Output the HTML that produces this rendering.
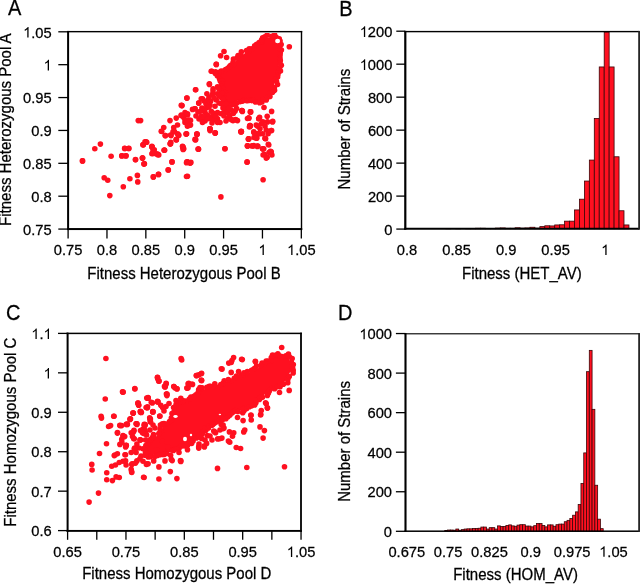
<!DOCTYPE html><html><head><meta charset="utf-8"><style>html,body{margin:0;padding:0;background:#fff;width:640px;height:584px;overflow:hidden}svg{display:block;will-change:transform}text{font-family:"Liberation Sans",sans-serif;fill:#000;stroke:#000;stroke-width:0.25px}path{fill:#000}</style></head><body>
<svg width="640" height="584" viewBox="0 0 640 584">
<rect width="640" height="584" fill="#fff"/>
<g transform="translate(8,15.4)"><text x="0" y="0" transform="scale(1,1.09)" font-size="20">A</text></g>
<clipPath id="c1"><rect x="69" y="32.9" width="231.8" height="195.4"/></clipPath>
<g clip-path="url(#c1)">
<g fill="#FF1020">
<polygon points="217.52,74.05 219.31,76.18 219.56,76.5 219.77,76.86 219.95,77.23 221.7,81.48 221.71,81.51 223.71,86.51 223.86,86.97 223.96,87.43 224.96,94.43 225,95 225,104.84 227.74,104.13 228.2,104.04 234.43,103.18 237.6,100.8 237.9,100.59 238.23,100.42 238.56,100.27 238.91,100.15 239.27,100.07 239.63,100.02 240,100 244.6,100 249.22,99.08 249.57,99.02 249.93,99 250.29,99.01 250.65,99.05 251,99.13 251.35,99.23 257.41,101.4 262.66,100.65 267.29,97.95 269.68,94.77 272.31,90.37 273.67,85.85 273.73,85.65 276.1,79.03 277.04,72.43 277.15,71.9 278.95,65.6 278.51,60.33 278.5,60 278.51,59.67 278.55,59.34 279.4,54.26 278.17,50.15 278.08,49.78 278.02,49.41 278,49.03 278.01,48.66 278.06,48.28 278.15,47.91 278.27,47.56 278.42,47.21 280.23,43.6 280.66,41.88 279.37,40.16 275.66,38.3 271.5,37.39 266.79,37.23 264.52,38.25 261.12,42.5 260.85,42.81 260.55,43.08 260.22,43.33 257.3,45.27 253.89,47.81 253.61,48 253.32,48.16 248.47,50.63 243.4,54.2 238.71,57.95 234.31,62.59 230.7,67.4 230.43,67.72 230.13,68.01 229.8,68.27 223.55,72.67 223.25,72.87 222.92,73.03 222.59,73.17 222.24,73.28 221.88,73.35 217.52,74.05"/>
<circle cx="261.97" cy="41.75" r="2.8"/>
<circle cx="259.12" cy="42.62" r="2.8"/>
<circle cx="256.66" cy="44.24" r="2.8"/>
<circle cx="254.66" cy="45.74" r="2.8"/>
<circle cx="252" cy="48.78" r="2.8"/>
<circle cx="249.25" cy="48.89" r="2.8"/>
<circle cx="249.26" cy="50.39" r="2.8"/>
<circle cx="246.54" cy="50.53" r="2.8"/>
<circle cx="241.37" cy="51.74" r="2.8"/>
<circle cx="240.66" cy="54.86" r="2.8"/>
<circle cx="238.07" cy="55.54" r="2.8"/>
<circle cx="236.92" cy="58.09" r="2.8"/>
<circle cx="233.41" cy="59.06" r="2.8"/>
<circle cx="233.1" cy="62.21" r="2.8"/>
<circle cx="233.61" cy="64.44" r="2.8"/>
<circle cx="230.71" cy="65.39" r="2.8"/>
<circle cx="229.53" cy="66.45" r="2.8"/>
<circle cx="227.81" cy="68.21" r="2.8"/>
<circle cx="225.55" cy="69.49" r="2.8"/>
<circle cx="223.65" cy="71.13" r="2.8"/>
<circle cx="221.16" cy="71.16" r="2.8"/>
<circle cx="218.86" cy="72.62" r="2.8"/>
<circle cx="215.3" cy="73.5" r="2.8"/>
<circle cx="217.31" cy="75.66" r="2.8"/>
<circle cx="219.5" cy="78.69" r="2.8"/>
<circle cx="220.24" cy="81.09" r="2.8"/>
<circle cx="222.29" cy="80.89" r="2.8"/>
<circle cx="221.4" cy="83.95" r="2.8"/>
<circle cx="221.66" cy="86.4" r="2.8"/>
<circle cx="222.91" cy="88.56" r="2.8"/>
<circle cx="225.25" cy="92.64" r="2.8"/>
<circle cx="223.8" cy="95.37" r="2.8"/>
<circle cx="224.48" cy="98.3" r="2.8"/>
<circle cx="223.8" cy="100.8" r="2.8"/>
<circle cx="225.33" cy="102.64" r="2.8"/>
<circle cx="223.8" cy="105.14" r="2.8"/>
<circle cx="225.3" cy="105.64" r="2.8"/>
<circle cx="227.81" cy="105.35" r="2.8"/>
<circle cx="229.4" cy="103.88" r="2.8"/>
<circle cx="232.04" cy="104.72" r="2.8"/>
<circle cx="234.35" cy="104.2" r="2.8"/>
<circle cx="236.48" cy="103.14" r="2.8"/>
<circle cx="240" cy="101.7" r="2.8"/>
<circle cx="242.49" cy="101.2" r="2.8"/>
<circle cx="244.41" cy="100.1" r="2.8"/>
<circle cx="247.02" cy="100.74" r="2.8"/>
<circle cx="249.2" cy="100.35" r="2.8"/>
<circle cx="251.63" cy="100.61" r="2.8"/>
<circle cx="253.32" cy="100.35" r="2.8"/>
<circle cx="255.4" cy="101.96" r="2.8"/>
<circle cx="259.57" cy="102.73" r="2.8"/>
<circle cx="261.98" cy="101.96" r="2.8"/>
<circle cx="263.13" cy="99.53" r="2.8"/>
<circle cx="266.26" cy="99.94" r="2.8"/>
<circle cx="267.28" cy="97.55" r="2.8"/>
<circle cx="269.94" cy="96.42" r="2.8"/>
<circle cx="269.77" cy="93.42" r="2.8"/>
<circle cx="272.61" cy="92.21" r="2.8"/>
<circle cx="274.54" cy="90.32" r="2.8"/>
<circle cx="274.38" cy="87.66" r="2.8"/>
<circle cx="277.54" cy="84.45" r="2.8"/>
<circle cx="276.52" cy="81.43" r="2.8"/>
<circle cx="275.72" cy="79.13" r="2.8"/>
<circle cx="277.61" cy="76.93" r="2.8"/>
<circle cx="277.9" cy="74.41" r="2.8"/>
<circle cx="278.39" cy="71.95" r="2.8"/>
<circle cx="280.48" cy="71.09" r="2.8"/>
<circle cx="279.46" cy="68.2" r="2.8"/>
<circle cx="281.33" cy="65.19" r="2.8"/>
<circle cx="279.92" cy="62.8" r="2.8"/>
<circle cx="280.3" cy="60.45" r="2.8"/>
<circle cx="279.99" cy="58.01" r="2.8"/>
<circle cx="279.96" cy="55.23" r="2.8"/>
<circle cx="280.24" cy="52.89" r="2.8"/>
<circle cx="281.38" cy="50.11" r="2.8"/>
<circle cx="279.31" cy="48.22" r="2.8"/>
<circle cx="279.74" cy="46.51" r="2.8"/>
<circle cx="281.16" cy="44.43" r="2.8"/>
<circle cx="280.09" cy="41.1" r="2.8"/>
<circle cx="279.24" cy="38.75" r="2.8"/>
<circle cx="277.81" cy="39.56" r="2.8"/>
<circle cx="276.18" cy="37.22" r="2.8"/>
<circle cx="274.61" cy="34.86" r="2.8"/>
<circle cx="271.75" cy="36.21" r="2.8"/>
<circle cx="267.17" cy="35.04" r="2.8"/>
<circle cx="264.8" cy="36.81" r="2.8"/>
<circle cx="262.63" cy="37.7" r="2.8"/>
<circle cx="261.56" cy="40.04" r="2.8"/>
<circle cx="216.25" cy="64.4" r="2.8"/>
<circle cx="211.9" cy="71.25" r="2.8"/>
<circle cx="215.6" cy="71.9" r="2.8"/>
<circle cx="209.4" cy="83.75" r="2.8"/>
<circle cx="213.1" cy="88.75" r="2.8"/>
<circle cx="217.5" cy="86.9" r="2.8"/>
<circle cx="221.25" cy="91.25" r="2.8"/>
<circle cx="217.5" cy="93.75" r="2.8"/>
<circle cx="212.5" cy="94.4" r="2.8"/>
<circle cx="206.9" cy="93.75" r="2.8"/>
<circle cx="202.5" cy="98.75" r="2.8"/>
<circle cx="198.75" cy="103.1" r="2.8"/>
<circle cx="195" cy="108.75" r="2.8"/>
<circle cx="201.9" cy="108.1" r="2.8"/>
<circle cx="206.9" cy="107.5" r="2.8"/>
<circle cx="210.6" cy="101.25" r="2.8"/>
<circle cx="216.25" cy="100" r="2.8"/>
<circle cx="221.25" cy="97.5" r="2.8"/>
<circle cx="221.25" cy="103.75" r="2.8"/>
<circle cx="215" cy="106.25" r="2.8"/>
<circle cx="211.25" cy="111.25" r="2.8"/>
<circle cx="205" cy="112.5" r="2.8"/>
<circle cx="200.6" cy="111.25" r="2.8"/>
<circle cx="201.25" cy="116.25" r="2.8"/>
<circle cx="202.5" cy="121.25" r="2.8"/>
<circle cx="207.5" cy="115" r="2.8"/>
<circle cx="212.5" cy="116.25" r="2.8"/>
<circle cx="213.75" cy="120" r="2.8"/>
<circle cx="210" cy="118.75" r="2.8"/>
<circle cx="217.5" cy="118.75" r="2.8"/>
<circle cx="220" cy="122.5" r="2.8"/>
<circle cx="221.25" cy="113.75" r="2.8"/>
<circle cx="217.5" cy="112.5" r="2.8"/>
<circle cx="225" cy="110" r="2.8"/>
<circle cx="227.5" cy="112.5" r="2.8"/>
<circle cx="230" cy="115" r="2.8"/>
<circle cx="227.5" cy="118.75" r="2.8"/>
<circle cx="232.5" cy="120" r="2.8"/>
<circle cx="236.25" cy="120" r="2.8"/>
<circle cx="235" cy="111.25" r="2.8"/>
<circle cx="231.25" cy="110" r="2.8"/>
<circle cx="241.9" cy="110.6" r="2.8"/>
<circle cx="250.6" cy="111.9" r="2.8"/>
<circle cx="248.75" cy="118.1" r="2.8"/>
<circle cx="250" cy="125.6" r="2.8"/>
<circle cx="258.75" cy="118.75" r="2.8"/>
<circle cx="210" cy="128.75" r="2.8"/>
<circle cx="241.25" cy="131.25" r="2.8"/>
<circle cx="195.6" cy="89.75" r="2.8"/>
<circle cx="186.9" cy="98.1" r="2.8"/>
<circle cx="181.9" cy="105.6" r="2.8"/>
<circle cx="192.5" cy="109.4" r="2.8"/>
<circle cx="185" cy="112.5" r="2.8"/>
<circle cx="187.5" cy="115" r="2.8"/>
<circle cx="183.75" cy="117.5" r="2.8"/>
<circle cx="188.75" cy="120" r="2.8"/>
<circle cx="185" cy="122.5" r="2.8"/>
<circle cx="187.5" cy="125" r="2.8"/>
<circle cx="181.25" cy="115" r="2.8"/>
<circle cx="206" cy="104" r="2.8"/>
<circle cx="209" cy="97" r="2.8"/>
<circle cx="205" cy="109" r="2.8"/>
<circle cx="210" cy="105" r="2.8"/>
<circle cx="213" cy="113" r="2.8"/>
<circle cx="216" cy="116" r="2.8"/>
<circle cx="205" cy="121" r="2.8"/>
<circle cx="199" cy="119" r="2.8"/>
<circle cx="196" cy="116" r="2.8"/>
<circle cx="198" cy="112" r="2.8"/>
<circle cx="212" cy="123" r="2.8"/>
<circle cx="223" cy="113" r="2.8"/>
<circle cx="229" cy="117" r="2.8"/>
<circle cx="226" cy="121" r="2.8"/>
<circle cx="208" cy="100" r="2.8"/>
<circle cx="204" cy="101" r="2.8"/>
<circle cx="222" cy="93" r="2.8"/>
<circle cx="223" cy="99" r="2.8"/>
<circle cx="219" cy="96" r="2.8"/>
<circle cx="224" cy="105" r="2.8"/>
<circle cx="226" cy="104" r="2.8"/>
<circle cx="229" cy="108" r="2.8"/>
<circle cx="223" cy="108" r="2.8"/>
<circle cx="219" cy="103" r="2.8"/>
<circle cx="213" cy="91" r="2.8"/>
<circle cx="219" cy="89" r="2.8"/>
<circle cx="204" cy="117" r="2.8"/>
<circle cx="224" cy="116" r="2.8"/>
<circle cx="214" cy="98" r="2.8"/>
<circle cx="209" cy="107" r="2.8"/>
<circle cx="82.6" cy="160.9" r="2.8"/>
<circle cx="94.8" cy="148.75" r="2.8"/>
<circle cx="100.4" cy="144.1" r="2.8"/>
<circle cx="111.1" cy="156.25" r="2.8"/>
<circle cx="104.2" cy="177.8" r="2.8"/>
<circle cx="107.75" cy="180.25" r="2.8"/>
<circle cx="109.8" cy="195.6" r="2.8"/>
<circle cx="123.3" cy="186.8" r="2.8"/>
<circle cx="129.9" cy="178.75" r="2.8"/>
<circle cx="137.4" cy="175.4" r="2.8"/>
<circle cx="137.75" cy="181.9" r="2.8"/>
<circle cx="122" cy="155.7" r="2.8"/>
<circle cx="126.1" cy="155.7" r="2.8"/>
<circle cx="124.6" cy="148.4" r="2.8"/>
<circle cx="128.9" cy="148.4" r="2.8"/>
<circle cx="135.5" cy="159.6" r="2.8"/>
<circle cx="142.6" cy="158.1" r="2.8"/>
<circle cx="143.9" cy="164.1" r="2.8"/>
<circle cx="143.4" cy="144.6" r="2.8"/>
<circle cx="146.75" cy="142.2" r="2.8"/>
<circle cx="152" cy="146.9" r="2.8"/>
<circle cx="153.3" cy="153.4" r="2.8"/>
<circle cx="158" cy="154.4" r="2.8"/>
<circle cx="154.25" cy="149.7" r="2.8"/>
<circle cx="153.3" cy="176.9" r="2.8"/>
<circle cx="158.6" cy="174.4" r="2.8"/>
<circle cx="164.6" cy="150.25" r="2.8"/>
<circle cx="168.3" cy="170" r="2.8"/>
<circle cx="172.1" cy="161.9" r="2.8"/>
<circle cx="170.2" cy="144.1" r="2.8"/>
<circle cx="170.75" cy="142.2" r="2.8"/>
<circle cx="176.4" cy="139.75" r="2.8"/>
<circle cx="183" cy="147.4" r="2.8"/>
<circle cx="183.7" cy="148.75" r="2.8"/>
<circle cx="186.5" cy="162.8" r="2.8"/>
<circle cx="186.5" cy="176.5" r="2.8"/>
<circle cx="161.75" cy="131.5" r="2.8"/>
<circle cx="165.1" cy="135.6" r="2.8"/>
<circle cx="171.1" cy="135.6" r="2.8"/>
<circle cx="173" cy="131.9" r="2.8"/>
<circle cx="177.7" cy="133.75" r="2.8"/>
<circle cx="178.6" cy="135.6" r="2.8"/>
<circle cx="186.1" cy="134.1" r="2.8"/>
<circle cx="174.4" cy="131.5" r="2.8"/>
<circle cx="178.1" cy="134.7" r="2.8"/>
<circle cx="176.25" cy="139.4" r="2.8"/>
<circle cx="186.6" cy="133.75" r="2.8"/>
<circle cx="196.9" cy="133.75" r="2.8"/>
<circle cx="195" cy="139.4" r="2.8"/>
<circle cx="210" cy="130.6" r="2.8"/>
<circle cx="215.25" cy="132.8" r="2.8"/>
<circle cx="170.25" cy="143.5" r="2.8"/>
<circle cx="182.8" cy="146.9" r="2.8"/>
<circle cx="183.4" cy="149.1" r="2.8"/>
<circle cx="198.4" cy="149.1" r="2.8"/>
<circle cx="225" cy="148.75" r="2.8"/>
<circle cx="164.1" cy="150.25" r="2.8"/>
<circle cx="151.9" cy="146.9" r="2.8"/>
<circle cx="152.8" cy="152.5" r="2.8"/>
<circle cx="157.5" cy="154.4" r="2.8"/>
<circle cx="187.5" cy="161.9" r="2.8"/>
<circle cx="190.3" cy="162.8" r="2.8"/>
<circle cx="168.2" cy="169.9" r="2.8"/>
<circle cx="158.4" cy="174.4" r="2.8"/>
<circle cx="153.4" cy="176.9" r="2.8"/>
<circle cx="187.5" cy="176.3" r="2.8"/>
<circle cx="220.9" cy="196.9" r="2.8"/>
<circle cx="240.9" cy="131.9" r="2.8"/>
<circle cx="247.1" cy="162.25" r="2.8"/>
<circle cx="263.1" cy="179.7" r="2.8"/>
<circle cx="248.4" cy="139" r="2.8"/>
<circle cx="247.5" cy="146" r="2.8"/>
<circle cx="253.1" cy="146" r="2.8"/>
<circle cx="257.8" cy="146" r="2.8"/>
<circle cx="254" cy="137.5" r="2.8"/>
<circle cx="256.9" cy="133.75" r="2.8"/>
<circle cx="262.5" cy="133.75" r="2.8"/>
<circle cx="265.3" cy="138.4" r="2.8"/>
<circle cx="262.5" cy="148.75" r="2.8"/>
<circle cx="264.4" cy="154.4" r="2.8"/>
<circle cx="267.2" cy="157.2" r="2.8"/>
<circle cx="269" cy="152.5" r="2.8"/>
<circle cx="268.1" cy="133.75" r="2.8"/>
<circle cx="241.25" cy="131.5" r="2.8"/>
<circle cx="250" cy="126.25" r="2.8"/>
<circle cx="256.25" cy="125" r="2.8"/>
<circle cx="261.25" cy="123.75" r="2.8"/>
<circle cx="267.5" cy="121.9" r="2.8"/>
<circle cx="272.5" cy="121.9" r="2.8"/>
<circle cx="271.25" cy="130.6" r="2.8"/>
<circle cx="266.25" cy="130" r="2.8"/>
<circle cx="260" cy="128.75" r="2.8"/>
<circle cx="253.75" cy="131.9" r="2.8"/>
<circle cx="258.75" cy="133.75" r="2.8"/>
<circle cx="248.75" cy="138.75" r="2.8"/>
<circle cx="256.9" cy="138.1" r="2.8"/>
<circle cx="265.6" cy="138.75" r="2.8"/>
<circle cx="253.75" cy="145.6" r="2.8"/>
<circle cx="257.5" cy="146.25" r="2.8"/>
<circle cx="268.75" cy="145" r="2.8"/>
<circle cx="263.75" cy="148.75" r="2.8"/>
<circle cx="271.25" cy="151.9" r="2.8"/>
<circle cx="271.9" cy="155" r="2.8"/>
<circle cx="263.1" cy="155" r="2.8"/>
<circle cx="266.25" cy="158.1" r="2.8"/>
<circle cx="233" cy="120.6" r="2.8"/>
<circle cx="237.5" cy="120.6" r="2.8"/>
<circle cx="289.3" cy="46.8" r="2.8"/>
<circle cx="224" cy="51.5" r="2.8"/>
<circle cx="220.6" cy="55.8" r="2.8"/>
<circle cx="226.6" cy="57.5" r="2.8"/>
<circle cx="216.3" cy="64.4" r="2.8"/>
<circle cx="211.2" cy="71.2" r="2.8"/>
<circle cx="209.4" cy="84.4" r="2.8"/>
<circle cx="195.6" cy="89.75" r="2.8"/>
<circle cx="186.9" cy="98.1" r="2.8"/>
<circle cx="181.9" cy="105.6" r="2.8"/>
<circle cx="195" cy="108.75" r="2.8"/>
<circle cx="241.9" cy="110.6" r="2.8"/>
<circle cx="250.6" cy="111.9" r="2.8"/>
<circle cx="248.75" cy="118.1" r="2.8"/>
<circle cx="250" cy="125.6" r="2.8"/>
<circle cx="258.75" cy="118.75" r="2.8"/>
<circle cx="210" cy="128.75" r="2.8"/>
<circle cx="181.25" cy="105.25" r="2.8"/>
<circle cx="140.6" cy="120.6" r="2.8"/>
<circle cx="170" cy="120.6" r="2.8"/>
<circle cx="176.25" cy="118.1" r="2.8"/>
<circle cx="181.25" cy="115.6" r="2.8"/>
<circle cx="187.5" cy="113.75" r="2.8"/>
<circle cx="185" cy="120" r="2.8"/>
<circle cx="189.4" cy="121.25" r="2.8"/>
<circle cx="187.5" cy="126.25" r="2.8"/>
<circle cx="177.5" cy="125" r="2.8"/>
<circle cx="173.75" cy="127.5" r="2.8"/>
<circle cx="163.75" cy="127.5" r="2.8"/>
<circle cx="161.25" cy="131.25" r="2.8"/>
<circle cx="165.6" cy="135.6" r="2.8"/>
<circle cx="170.6" cy="135" r="2.8"/>
<circle cx="173.75" cy="131.25" r="2.8"/>
<circle cx="178.75" cy="135" r="2.8"/>
<circle cx="176.25" cy="140" r="2.8"/>
<circle cx="186.25" cy="134" r="2.8"/>
<circle cx="196.9" cy="134.4" r="2.8"/>
<circle cx="195.6" cy="139.4" r="2.8"/>
<circle cx="170.6" cy="143.75" r="2.8"/>
<circle cx="164.4" cy="150" r="2.8"/>
<circle cx="182.5" cy="146.25" r="2.8"/>
<circle cx="183.1" cy="149.4" r="2.8"/>
<circle cx="198.1" cy="149" r="2.8"/>
<circle cx="145" cy="141.9" r="2.8"/>
<circle cx="143.1" cy="145" r="2.8"/>
<circle cx="151.9" cy="146.25" r="2.8"/>
<circle cx="153.1" cy="150" r="2.8"/>
<circle cx="156.25" cy="153.75" r="2.8"/>
<circle cx="158.75" cy="155" r="2.8"/>
<circle cx="151.9" cy="153.75" r="2.8"/>
<circle cx="142.5" cy="158.1" r="2.8"/>
<circle cx="144.4" cy="163.75" r="2.8"/>
<circle cx="171.9" cy="161.9" r="2.8"/>
<circle cx="186.9" cy="161.9" r="2.8"/>
<circle cx="190" cy="163.1" r="2.8"/>
<circle cx="215" cy="133.1" r="2.8"/>
<circle cx="198.75" cy="103.1" r="2.8"/>
<circle cx="201.25" cy="98.75" r="2.8"/>
<circle cx="202.5" cy="122.5" r="2.8"/>
<circle cx="207.5" cy="118.75" r="2.8"/>
<circle cx="217.5" cy="122.5" r="2.8"/>
<circle cx="138.25" cy="120.6" r="2.8"/>
<circle cx="82.4" cy="160.9" r="2.8"/>
<circle cx="121.75" cy="155.9" r="2.8"/>
<circle cx="125.75" cy="155.9" r="2.8"/>
<circle cx="124.9" cy="148.5" r="2.8"/>
<circle cx="128.6" cy="148.5" r="2.8"/>
<circle cx="135.5" cy="159.75" r="2.8"/>
<circle cx="142.4" cy="158.1" r="2.8"/>
<circle cx="144.25" cy="163.75" r="2.8"/>
<circle cx="143" cy="144.75" r="2.8"/>
<circle cx="146.1" cy="141.9" r="2.8"/>
<circle cx="242" cy="110.8" r="2.8"/>
<circle cx="250.3" cy="111.9" r="2.8"/>
<circle cx="248.6" cy="118.3" r="2.8"/>
<circle cx="241" cy="131.6" r="2.8"/>
<circle cx="236.6" cy="108.6" r="2.8"/>
<circle cx="233.3" cy="113.5" r="2.8"/>
<circle cx="235.5" cy="119.6" r="2.8"/>
<circle cx="231.1" cy="119.6" r="2.8"/>
<circle cx="264" cy="107.5" r="2.8"/>
<circle cx="271.6" cy="111.4" r="2.8"/>
<circle cx="259.6" cy="117.4" r="2.8"/>
<circle cx="267.2" cy="116.3" r="2.8"/>
<circle cx="272.7" cy="121.2" r="2.8"/>
<circle cx="262.9" cy="121.8" r="2.8"/>
<circle cx="250.3" cy="126.1" r="2.8"/>
<circle cx="257.4" cy="126.1" r="2.8"/>
<circle cx="265" cy="126.1" r="2.8"/>
<circle cx="271.6" cy="130.5" r="2.8"/>
<circle cx="254.1" cy="132.7" r="2.8"/>
<circle cx="259.6" cy="133.8" r="2.8"/>
<circle cx="248.6" cy="138.7" r="2.8"/>
<circle cx="256.3" cy="138.2" r="2.8"/>
<circle cx="265" cy="138.2" r="2.8"/>
<circle cx="247.5" cy="145.9" r="2.8"/>
<circle cx="251.9" cy="145.9" r="2.8"/>
<circle cx="257.4" cy="146.4" r="2.8"/>
<circle cx="268.3" cy="144.2" r="2.8"/>
<circle cx="262.9" cy="149.1" r="2.8"/>
<circle cx="270.5" cy="151.3" r="2.8"/>
<circle cx="209.8" cy="128.9" r="2.8"/>
<circle cx="215.3" cy="133.1" r="2.8"/>
<circle cx="197.1" cy="134.3" r="2.8"/>
<circle cx="195.5" cy="140" r="2.8"/>
<circle cx="198.5" cy="149.2" r="2.8"/>
<circle cx="224.9" cy="148.7" r="2.8"/>
<circle cx="241.4" cy="131.7" r="2.8"/>
<circle cx="247.5" cy="118.5" r="2.8"/>
<circle cx="249.4" cy="127" r="2.8"/>
<circle cx="248.5" cy="139.2" r="2.8"/>
<circle cx="247.5" cy="145.8" r="2.8"/>
<circle cx="247.1" cy="161.9" r="2.8"/>
<circle cx="190.9" cy="162.4" r="2.8"/>
<circle cx="190.5" cy="125.1" r="2.8"/>
<circle cx="190.5" cy="120.4" r="2.8"/>
<circle cx="242.4" cy="111.4" r="2.8"/>
</g>
<ellipse cx="277.6" cy="41" rx="2.5" ry="2.2" fill="#fff"/>
</g>
<rect x="67.1" y="30.95" width="235.1" height="1.4" fill="#000"/>
<rect x="67.1" y="228.05" width="235.1" height="2" fill="#000"/>
<rect x="67.1" y="30.95" width="2" height="199.1" fill="#000"/>
<rect x="300.8" y="30.95" width="1.4" height="199.1" fill="#000"/>
<line x1="58.3" y1="31.8" x2="68.1" y2="31.8" stroke="#000" stroke-width="1.3"/>
<g transform="translate(51.7,37.5)"><text x="-28.61" y="0" transform="scale(1,1.04)" font-size="14.7"> .05</text><path transform="translate(-28.61,0) scale(0.00718,-0.00718)" d="M763 0H583V1147Q518 1085 412.5 1023T223 930V1104Q374 1175 487 1276T647 1472H763Z"/></g>
<line x1="58.3" y1="64.68" x2="68.1" y2="64.68" stroke="#000" stroke-width="1.3"/>
<g transform="translate(51.7,70.38)"><text x="-8.18" y="0" transform="scale(1,1.04)" font-size="14.7"> </text><path transform="translate(-8.18,0) scale(0.00718,-0.00718)" d="M763 0H583V1147Q518 1085 412.5 1023T223 930V1104Q374 1175 487 1276T647 1472H763Z"/></g>
<line x1="58.3" y1="97.56" x2="68.1" y2="97.56" stroke="#000" stroke-width="1.3"/>
<g transform="translate(51.7,103.26)"><text x="-28.61" y="0" transform="scale(1,1.04)" font-size="14.7">0.95</text></g>
<line x1="58.3" y1="130.44" x2="68.1" y2="130.44" stroke="#000" stroke-width="1.3"/>
<g transform="translate(51.7,136.14)"><text x="-20.44" y="0" transform="scale(1,1.04)" font-size="14.7">0.9</text></g>
<line x1="58.3" y1="163.32" x2="68.1" y2="163.32" stroke="#000" stroke-width="1.3"/>
<g transform="translate(51.7,169.02)"><text x="-28.61" y="0" transform="scale(1,1.04)" font-size="14.7">0.85</text></g>
<line x1="58.3" y1="196.2" x2="68.1" y2="196.2" stroke="#000" stroke-width="1.3"/>
<g transform="translate(51.7,201.9)"><text x="-20.44" y="0" transform="scale(1,1.04)" font-size="14.7">0.8</text></g>
<line x1="58.3" y1="229.08" x2="68.1" y2="229.08" stroke="#000" stroke-width="1.3"/>
<g transform="translate(51.7,234.78)"><text x="-28.61" y="0" transform="scale(1,1.04)" font-size="14.7">0.75</text></g>
<line x1="68.1" y1="229" x2="68.1" y2="238.5" stroke="#000" stroke-width="1.3"/>
<g transform="translate(68.1,255)"><text x="-14.31" y="0" transform="scale(1,1.04)" font-size="14.7">0.75</text></g>
<line x1="106.97" y1="229" x2="106.97" y2="238.5" stroke="#000" stroke-width="1.3"/>
<g transform="translate(106.97,255)"><text x="-10.22" y="0" transform="scale(1,1.04)" font-size="14.7">0.8</text></g>
<line x1="145.84" y1="229" x2="145.84" y2="238.5" stroke="#000" stroke-width="1.3"/>
<g transform="translate(145.84,255)"><text x="-14.31" y="0" transform="scale(1,1.04)" font-size="14.7">0.85</text></g>
<line x1="184.71" y1="229" x2="184.71" y2="238.5" stroke="#000" stroke-width="1.3"/>
<g transform="translate(184.71,255)"><text x="-10.22" y="0" transform="scale(1,1.04)" font-size="14.7">0.9</text></g>
<line x1="223.58" y1="229" x2="223.58" y2="238.5" stroke="#000" stroke-width="1.3"/>
<g transform="translate(223.58,255)"><text x="-14.31" y="0" transform="scale(1,1.04)" font-size="14.7">0.95</text></g>
<line x1="262.45" y1="229" x2="262.45" y2="238.5" stroke="#000" stroke-width="1.3"/>
<g transform="translate(262.45,255)"><text x="-4.09" y="0" transform="scale(1,1.04)" font-size="14.7"> </text><path transform="translate(-4.09,0) scale(0.00718,-0.00718)" d="M763 0H583V1147Q518 1085 412.5 1023T223 930V1104Q374 1175 487 1276T647 1472H763Z"/></g>
<line x1="301.32" y1="229" x2="301.32" y2="238.5" stroke="#000" stroke-width="1.3"/>
<g transform="translate(301.32,255)"><text x="-14.31" y="0" transform="scale(1,1.04)" font-size="14.7"> .05</text><path transform="translate(-14.31,0) scale(0.00718,-0.00718)" d="M763 0H583V1147Q518 1085 412.5 1023T223 930V1104Q374 1175 487 1276T647 1472H763Z"/></g>
<g transform="translate(184,279)"><text x="-96.71" y="0" transform="scale(1,1.04)" font-size="15.0">Fitness Heterozygous Pool B</text></g>
<g transform="translate(11.4,129.2) rotate(-90)"><text x="-96.71" y="0" transform="scale(1,1.04)" font-size="15.0">Fitness Heterozygous Pool A</text></g>
<g transform="translate(339.2,15.7)"><text x="0" y="0" transform="scale(1,1.09)" font-size="20">B</text></g>
<g fill="#FF1020" stroke="#3a0608" stroke-width="0.8">
<rect x="445.8" y="228.42" width="4.95" height="0.33"/>
<rect x="455.7" y="228.58" width="4.95" height="0.17"/>
<rect x="465.6" y="228.42" width="4.95" height="0.33"/>
<rect x="470.55" y="228.58" width="4.95" height="0.17"/>
<rect x="475.5" y="228.25" width="4.95" height="0.5"/>
<rect x="480.45" y="228.25" width="4.95" height="0.5"/>
<rect x="485.4" y="228.42" width="4.95" height="0.33"/>
<rect x="490.35" y="228.42" width="4.95" height="0.33"/>
<rect x="495.3" y="228.09" width="4.95" height="0.66"/>
<rect x="500.25" y="227.92" width="4.95" height="0.83"/>
<rect x="505.2" y="228.25" width="4.95" height="0.5"/>
<rect x="510.15" y="228.25" width="4.95" height="0.5"/>
<rect x="515.1" y="227.76" width="4.95" height="0.99"/>
<rect x="520.05" y="228.09" width="4.95" height="0.66"/>
<rect x="525" y="227.92" width="4.95" height="0.83"/>
<rect x="529.95" y="227.26" width="4.95" height="1.49"/>
<rect x="534.9" y="228.09" width="4.95" height="0.66"/>
<rect x="539.85" y="226.6" width="4.95" height="2.15"/>
<rect x="544.8" y="225.78" width="4.95" height="2.97"/>
<rect x="549.75" y="225.94" width="4.95" height="2.81"/>
<rect x="554.7" y="224.95" width="4.95" height="3.8"/>
<rect x="559.65" y="224.79" width="4.95" height="3.96"/>
<rect x="564.6" y="221.16" width="4.95" height="7.59"/>
<rect x="569.55" y="221.16" width="4.95" height="7.59"/>
<rect x="574.5" y="209.93" width="4.95" height="18.82"/>
<rect x="579.45" y="199.2" width="4.95" height="29.55"/>
<rect x="584.4" y="181.04" width="4.95" height="47.71"/>
<rect x="589.35" y="160.07" width="4.95" height="68.68"/>
<rect x="594.3" y="118.46" width="4.95" height="110.29"/>
<rect x="599.25" y="66.95" width="4.95" height="161.8"/>
<rect x="604.2" y="32" width="4.95" height="196.75"/>
<rect x="609.15" y="66.95" width="4.95" height="161.8"/>
<rect x="614.1" y="156.77" width="4.95" height="71.98"/>
<rect x="619.05" y="210.75" width="4.95" height="18"/>
<rect x="624" y="224.95" width="4.95" height="3.8"/>
</g>
<rect x="404.2" y="30.9" width="234.8" height="1.4" fill="#000"/>
<rect x="404.2" y="227.75" width="234.8" height="2" fill="#000"/>
<rect x="404.2" y="30.9" width="2.2" height="198.85" fill="#000"/>
<rect x="638.2" y="30.9" width="1.8" height="198.85" fill="#262626"/>
<line x1="396.3" y1="31.2" x2="405.3" y2="31.2" stroke="#000" stroke-width="1.3"/>
<g transform="translate(392.4,36.9)"><text x="-32.7" y="0" transform="scale(1,1.04)" font-size="14.7"> 200</text><path transform="translate(-32.7,0) scale(0.00718,-0.00718)" d="M763 0H583V1147Q518 1085 412.5 1023T223 930V1104Q374 1175 487 1276T647 1472H763Z"/></g>
<line x1="396.3" y1="64.18" x2="405.3" y2="64.18" stroke="#000" stroke-width="1.3"/>
<g transform="translate(392.4,69.88)"><text x="-32.7" y="0" transform="scale(1,1.04)" font-size="14.7"> 000</text><path transform="translate(-32.7,0) scale(0.00718,-0.00718)" d="M763 0H583V1147Q518 1085 412.5 1023T223 930V1104Q374 1175 487 1276T647 1472H763Z"/></g>
<line x1="396.3" y1="97.16" x2="405.3" y2="97.16" stroke="#000" stroke-width="1.3"/>
<g transform="translate(392.4,102.86)"><text x="-24.53" y="0" transform="scale(1,1.04)" font-size="14.7">800</text></g>
<line x1="396.3" y1="130.14" x2="405.3" y2="130.14" stroke="#000" stroke-width="1.3"/>
<g transform="translate(392.4,135.84)"><text x="-24.53" y="0" transform="scale(1,1.04)" font-size="14.7">600</text></g>
<line x1="396.3" y1="163.12" x2="405.3" y2="163.12" stroke="#000" stroke-width="1.3"/>
<g transform="translate(392.4,168.82)"><text x="-24.53" y="0" transform="scale(1,1.04)" font-size="14.7">400</text></g>
<line x1="396.3" y1="196.1" x2="405.3" y2="196.1" stroke="#000" stroke-width="1.3"/>
<g transform="translate(392.4,201.8)"><text x="-24.53" y="0" transform="scale(1,1.04)" font-size="14.7">200</text></g>
<line x1="396.3" y1="229.08" x2="405.3" y2="229.08" stroke="#000" stroke-width="1.3"/>
<g transform="translate(392.4,234.78)"><text x="-8.18" y="0" transform="scale(1,1.04)" font-size="14.7">0</text></g>
<g transform="translate(407,255)"><text x="-10.22" y="0" transform="scale(1,1.04)" font-size="14.7">0.8</text></g>
<g transform="translate(456.55,255)"><text x="-14.31" y="0" transform="scale(1,1.04)" font-size="14.7">0.85</text></g>
<g transform="translate(506.1,255)"><text x="-10.22" y="0" transform="scale(1,1.04)" font-size="14.7">0.9</text></g>
<g transform="translate(555.65,255)"><text x="-14.31" y="0" transform="scale(1,1.04)" font-size="14.7">0.95</text></g>
<g transform="translate(605.2,255)"><text x="-4.09" y="0" transform="scale(1,1.04)" font-size="14.7"> </text><path transform="translate(-4.09,0) scale(0.00718,-0.00718)" d="M763 0H583V1147Q518 1085 412.5 1023T223 930V1104Q374 1175 487 1276T647 1472H763Z"/></g>
<g transform="translate(522.4,278.5)"><text x="-60.43" y="0" transform="scale(1,1.04)" font-size="15.0">Fitness (HET_AV)</text></g>
<g transform="translate(350,129.05) rotate(-90)"><text x="-60.44" y="0" transform="scale(1,1.04)" font-size="15.0">Number of Strains</text></g>
<g transform="translate(6.1,320)"><text x="0" y="0" transform="scale(1,1.09)" font-size="20">C</text></g>
<clipPath id="c2"><rect x="68.6" y="334.4" width="231.6" height="195.5"/></clipPath>
<g clip-path="url(#c2)">
<g fill="#FF1020">
<polygon points="146.2,455.55 148.57,455.77 160.42,453.59 166,452.25 173.3,448.04 173.62,447.87 173.94,447.74 174.28,447.63 174.63,447.56 174.98,447.51 180.28,447.09 184.08,444.64 184.37,444.47 188.07,442.5 194.71,438.7 200.3,434.04 205.17,429.17 205.44,428.93 211.44,423.93 211.78,423.67 217.78,419.67 218.18,419.44 218.59,419.26 219.03,419.12 225.96,417.39 232.17,411.17 232.47,410.9 232.8,410.66 233.15,410.45 233.52,410.28 233.9,410.15 234.3,410.06 234.7,410.01 235.11,410 235.52,410.03 241.6,410.82 246.79,406.91 247.09,406.7 247.41,406.52 253.43,403.51 257.87,399.07 258.16,398.81 258.47,398.58 263.37,395.28 267.23,392.68 267.88,391.04 268.03,390.7 268.21,390.37 268.43,390.06 268.67,389.78 268.93,389.52 269.22,389.28 269.54,389.07 269.86,388.9 270.21,388.75 270.56,388.64 274.66,387.54 274.75,387.51 278.05,386.71 281.49,384.11 281.73,383.94 284.24,382.32 286.68,379.1 288.5,375.35 288.52,375.31 290.52,371.31 291.56,368.47 290.81,364.65 289.42,359.92 288.33,357.22 283.76,356.9 277.7,356.9 277.31,356.88 276.93,356.83 272.67,355.99 272.48,357.89 272.42,358.29 272.32,358.68 272.19,359.05 272.01,359.41 271.8,359.76 271.56,360.08 271.29,360.37 270.99,360.63 270.66,360.87 262.86,365.87 262.49,366.08 255.9,369.37 249.71,372.51 243.38,377.21 243.02,377.45 242.64,377.65 242.23,377.81 241.81,377.92 233.66,379.61 227.02,381.14 224.08,384.08 223.76,384.36 223.41,384.62 223.04,384.83 218.04,387.33 217.65,387.5 217.25,387.62 216.84,387.71 216.42,387.75 216,387.74 210.99,387.43 205.59,388.82 200.72,390.6 198.05,394.69 197.81,395.02 197.54,395.32 197.24,395.59 196.92,395.83 191.22,399.63 190.87,399.84 190.5,400.01 190.12,400.14 183.62,402.04 183.61,402.04 179.81,403.14 176.83,405.38 174.23,408.72 173.14,414.02 172.25,419.62 172.17,420 172.06,420.36 171.91,420.71 171.74,421.05 171.52,421.37 171.28,421.66 171.02,421.93 170.73,422.18 170.41,422.4 170.08,422.58 169.73,422.74 165.03,424.54 164.73,424.64 164.43,424.71 161.62,425.31 161.38,425.77 162.61,428.8 162.74,429.16 162.83,429.54 162.88,429.92 162.9,430.3 162.88,430.69 162.83,431.07 162.73,431.44 162.61,431.81 162.44,432.16 162.25,432.49 162.02,432.8 161.77,433.09 161.49,433.35 161.18,433.58 160.86,433.79 154.65,437.27 149.35,442.09 146.92,453.81 146.83,454.15 146.72,454.47 146.58,454.79 146.2,455.55"/>
<circle cx="145.87" cy="454.93" r="2.8"/>
<circle cx="148.2" cy="456.94" r="2.8"/>
<circle cx="148.22" cy="455.59" r="2.8"/>
<circle cx="150.57" cy="456.62" r="2.8"/>
<circle cx="154.94" cy="456.59" r="2.8"/>
<circle cx="157.26" cy="455.39" r="2.8"/>
<circle cx="159.5" cy="454.64" r="2.8"/>
<circle cx="162.01" cy="454.44" r="2.8"/>
<circle cx="164.05" cy="454.39" r="2.8"/>
<circle cx="166.38" cy="453.39" r="2.8"/>
<circle cx="169.16" cy="449.73" r="2.8"/>
<circle cx="172.23" cy="450.04" r="2.8"/>
<circle cx="173.45" cy="450.41" r="2.8"/>
<circle cx="175.28" cy="448.69" r="2.8"/>
<circle cx="176.56" cy="448.73" r="2.8"/>
<circle cx="179.04" cy="448.39" r="2.8"/>
<circle cx="181.47" cy="445.89" r="2.8"/>
<circle cx="184.42" cy="445.85" r="2.8"/>
<circle cx="187.61" cy="445.29" r="2.8"/>
<circle cx="189.31" cy="443.17" r="2.8"/>
<circle cx="191.62" cy="443.52" r="2.8"/>
<circle cx="193.07" cy="441.02" r="2.8"/>
<circle cx="196.4" cy="437.95" r="2.8"/>
<circle cx="198.77" cy="436.88" r="2.8"/>
<circle cx="199.71" cy="434.55" r="2.8"/>
<circle cx="202.29" cy="433.75" r="2.8"/>
<circle cx="203.36" cy="431.19" r="2.8"/>
<circle cx="205.88" cy="430.16" r="2.8"/>
<circle cx="205.29" cy="428.11" r="2.8"/>
<circle cx="208.44" cy="427.99" r="2.8"/>
<circle cx="209.29" cy="425.96" r="2.8"/>
<circle cx="211.86" cy="425.14" r="2.8"/>
<circle cx="214.62" cy="423.08" r="2.8"/>
<circle cx="216.77" cy="421.79" r="2.8"/>
<circle cx="220.25" cy="420.05" r="2.8"/>
<circle cx="222.67" cy="419.45" r="2.8"/>
<circle cx="223.09" cy="417.76" r="2.8"/>
<circle cx="225.88" cy="418.64" r="2.8"/>
<circle cx="227.9" cy="416.76" r="2.8"/>
<circle cx="229.86" cy="415.18" r="2.8"/>
<circle cx="232.25" cy="412.87" r="2.8"/>
<circle cx="234.17" cy="411.33" r="2.8"/>
<circle cx="235.59" cy="410.45" r="2.8"/>
<circle cx="237.96" cy="411.56" r="2.8"/>
<circle cx="242.72" cy="412.64" r="2.8"/>
<circle cx="244.16" cy="410.39" r="2.8"/>
<circle cx="243.64" cy="408.49" r="2.8"/>
<circle cx="246.74" cy="408.45" r="2.8"/>
<circle cx="249.38" cy="406.8" r="2.8"/>
<circle cx="251.65" cy="405.74" r="2.8"/>
<circle cx="254.68" cy="405.03" r="2.8"/>
<circle cx="255.91" cy="402.73" r="2.8"/>
<circle cx="256.31" cy="399.87" r="2.8"/>
<circle cx="259.38" cy="399.41" r="2.8"/>
<circle cx="259.67" cy="397.67" r="2.8"/>
<circle cx="262.46" cy="397.34" r="2.8"/>
<circle cx="267.34" cy="395.54" r="2.8"/>
<circle cx="268.44" cy="392.89" r="2.8"/>
<circle cx="267.86" cy="392.7" r="2.8"/>
<circle cx="269.49" cy="390.67" r="2.8"/>
<circle cx="271.81" cy="387.99" r="2.8"/>
<circle cx="274.62" cy="388.79" r="2.8"/>
<circle cx="277.61" cy="386.59" r="2.8"/>
<circle cx="280.05" cy="386.7" r="2.8"/>
<circle cx="280.4" cy="384.52" r="2.8"/>
<circle cx="283.37" cy="384.31" r="2.8"/>
<circle cx="287.79" cy="382.71" r="2.8"/>
<circle cx="287.78" cy="379.57" r="2.8"/>
<circle cx="287.55" cy="378.47" r="2.8"/>
<circle cx="289.26" cy="376.53" r="2.8"/>
<circle cx="293.17" cy="372.95" r="2.8"/>
<circle cx="292.35" cy="369.81" r="2.8"/>
<circle cx="293.17" cy="370.41" r="2.8"/>
<circle cx="292.63" cy="367.69" r="2.8"/>
<circle cx="293.3" cy="364.55" r="2.8"/>
<circle cx="291.4" cy="362.39" r="2.8"/>
<circle cx="292.16" cy="358.62" r="2.8"/>
<circle cx="289.53" cy="356.99" r="2.8"/>
<circle cx="288.45" cy="354.16" r="2.8"/>
<circle cx="285.83" cy="355.84" r="2.8"/>
<circle cx="281.9" cy="356.67" r="2.8"/>
<circle cx="279.4" cy="355.7" r="2.8"/>
<circle cx="277.88" cy="353.83" r="2.8"/>
<circle cx="275.25" cy="355.27" r="2.8"/>
<circle cx="272.52" cy="355.06" r="2.8"/>
<circle cx="271.32" cy="357.45" r="2.8"/>
<circle cx="271.13" cy="360.83" r="2.8"/>
<circle cx="268.2" cy="361.02" r="2.8"/>
<circle cx="266.19" cy="361" r="2.8"/>
<circle cx="264.68" cy="363.28" r="2.8"/>
<circle cx="262.08" cy="363.05" r="2.8"/>
<circle cx="260.76" cy="365.6" r="2.8"/>
<circle cx="256.32" cy="366.16" r="2.8"/>
<circle cx="254.75" cy="368.61" r="2.8"/>
<circle cx="253.82" cy="369.15" r="2.8"/>
<circle cx="251.56" cy="370.23" r="2.8"/>
<circle cx="247.33" cy="371.59" r="2.8"/>
<circle cx="245.9" cy="373.85" r="2.8"/>
<circle cx="244.02" cy="372.84" r="2.8"/>
<circle cx="243.16" cy="375.88" r="2.8"/>
<circle cx="241.32" cy="374.98" r="2.8"/>
<circle cx="239.26" cy="377.22" r="2.8"/>
<circle cx="236.39" cy="376.17" r="2.8"/>
<circle cx="234.27" cy="378.26" r="2.8"/>
<circle cx="231.21" cy="380.93" r="2.8"/>
<circle cx="228.34" cy="379.6" r="2.8"/>
<circle cx="224.22" cy="380.73" r="2.8"/>
<circle cx="223.21" cy="383.25" r="2.8"/>
<circle cx="223.19" cy="383.75" r="2.8"/>
<circle cx="220.79" cy="384.61" r="2.8"/>
<circle cx="217.17" cy="387.26" r="2.8"/>
<circle cx="214.53" cy="386.45" r="2.8"/>
<circle cx="213.13" cy="386.47" r="2.8"/>
<circle cx="210.65" cy="386.28" r="2.8"/>
<circle cx="209.24" cy="386.27" r="2.8"/>
<circle cx="206.91" cy="387.24" r="2.8"/>
<circle cx="202.17" cy="387.69" r="2.8"/>
<circle cx="200.18" cy="389.52" r="2.8"/>
<circle cx="198.69" cy="389.56" r="2.8"/>
<circle cx="198.22" cy="392.24" r="2.8"/>
<circle cx="195.94" cy="394.87" r="2.8"/>
<circle cx="193.93" cy="396.38" r="2.8"/>
<circle cx="190.88" cy="397.03" r="2.8"/>
<circle cx="189.32" cy="399.12" r="2.8"/>
<circle cx="186.21" cy="400.99" r="2.8"/>
<circle cx="183.56" cy="400.81" r="2.8"/>
<circle cx="182.52" cy="401.45" r="2.8"/>
<circle cx="180.03" cy="401.83" r="2.8"/>
<circle cx="178.16" cy="403" r="2.8"/>
<circle cx="176.1" cy="404.42" r="2.8"/>
<circle cx="176.07" cy="406.37" r="2.8"/>
<circle cx="173.58" cy="407.6" r="2.8"/>
<circle cx="174.15" cy="411.53" r="2.8"/>
<circle cx="171.99" cy="413.64" r="2.8"/>
<circle cx="173.6" cy="415.76" r="2.8"/>
<circle cx="171.3" cy="417.93" r="2.8"/>
<circle cx="171.73" cy="419.85" r="2.8"/>
<circle cx="169.53" cy="421.52" r="2.8"/>
<circle cx="166.84" cy="424.02" r="2.8"/>
<circle cx="164" cy="423.58" r="2.8"/>
<circle cx="162.34" cy="423.73" r="2.8"/>
<circle cx="160.41" cy="425.05" r="2.8"/>
<circle cx="160.19" cy="429.13" r="2.8"/>
<circle cx="161.58" cy="431.11" r="2.8"/>
<circle cx="160.37" cy="431.57" r="2.8"/>
<circle cx="158.83" cy="433.55" r="2.8"/>
<circle cx="153.5" cy="434.59" r="2.8"/>
<circle cx="152.44" cy="437.65" r="2.8"/>
<circle cx="152.42" cy="438.06" r="2.8"/>
<circle cx="150.38" cy="439.53" r="2.8"/>
<circle cx="149.15" cy="442.14" r="2.8"/>
<circle cx="147.65" cy="444.38" r="2.8"/>
<circle cx="145.86" cy="445.55" r="2.8"/>
<circle cx="146.84" cy="448.3" r="2.8"/>
<circle cx="146.42" cy="453.05" r="2.8"/>
<circle cx="145" cy="455.26" r="2.8"/>
<circle cx="166" cy="406.5" r="2.8"/>
<circle cx="169" cy="403.5" r="2.8"/>
<circle cx="164" cy="411" r="2.8"/>
<circle cx="180.8" cy="398.3" r="2.8"/>
<circle cx="176" cy="400.5" r="2.8"/>
<circle cx="205" cy="440" r="2.8"/>
<circle cx="210" cy="436" r="2.8"/>
<circle cx="215" cy="432" r="2.8"/>
<circle cx="220" cy="430" r="2.8"/>
<circle cx="199" cy="444" r="2.8"/>
<circle cx="204" cy="446" r="2.8"/>
<circle cx="212" cy="440" r="2.8"/>
<circle cx="224" cy="428" r="2.8"/>
<circle cx="125.6" cy="446.9" r="2.8"/>
<circle cx="131.2" cy="452.5" r="2.8"/>
<circle cx="136.9" cy="460.9" r="2.8"/>
<circle cx="125.6" cy="460.9" r="2.8"/>
<circle cx="131.2" cy="469.4" r="2.8"/>
<circle cx="148.1" cy="463.7" r="2.8"/>
<circle cx="153.7" cy="460.9" r="2.8"/>
<circle cx="165" cy="460.9" r="2.8"/>
<circle cx="170.6" cy="455.3" r="2.8"/>
<circle cx="180.5" cy="460.9" r="2.8"/>
<circle cx="179" cy="452.5" r="2.8"/>
<circle cx="187.5" cy="449.7" r="2.8"/>
<circle cx="190.3" cy="441.2" r="2.8"/>
<circle cx="198.7" cy="446.9" r="2.8"/>
<circle cx="204.4" cy="446.9" r="2.8"/>
<circle cx="201.6" cy="438.4" r="2.8"/>
<circle cx="207.2" cy="435.6" r="2.8"/>
<circle cx="215.6" cy="432.8" r="2.8"/>
<circle cx="212.8" cy="424.4" r="2.8"/>
<circle cx="221.2" cy="424.4" r="2.8"/>
<circle cx="136.9" cy="424.4" r="2.8"/>
<circle cx="142.5" cy="432.8" r="2.8"/>
<circle cx="131.2" cy="432.8" r="2.8"/>
<circle cx="148.1" cy="441.2" r="2.8"/>
<circle cx="153.7" cy="435.6" r="2.8"/>
<circle cx="162.2" cy="441.2" r="2.8"/>
<circle cx="167.8" cy="446.9" r="2.8"/>
<circle cx="156.6" cy="449.7" r="2.8"/>
<circle cx="145.3" cy="449.7" r="2.8"/>
<circle cx="136.9" cy="444" r="2.8"/>
<circle cx="141" cy="456" r="2.8"/>
<circle cx="146" cy="455" r="2.8"/>
<circle cx="139" cy="448" r="2.8"/>
<circle cx="148" cy="398.2" r="2.8"/>
<circle cx="157.5" cy="402" r="2.8"/>
<circle cx="152.3" cy="402.9" r="2.8"/>
<circle cx="147.1" cy="407.6" r="2.8"/>
<circle cx="152.7" cy="411.9" r="2.8"/>
<circle cx="159.8" cy="416.1" r="2.8"/>
<circle cx="150.4" cy="419" r="2.8"/>
<circle cx="150.4" cy="421.8" r="2.8"/>
<circle cx="141.4" cy="412.4" r="2.8"/>
<circle cx="145.2" cy="424.6" r="2.8"/>
<circle cx="142.8" cy="429.3" r="2.8"/>
<circle cx="145.7" cy="433.1" r="2.8"/>
<circle cx="166.4" cy="394" r="2.8"/>
<circle cx="164.5" cy="386.4" r="2.8"/>
<circle cx="174.9" cy="387.8" r="2.8"/>
<circle cx="188.1" cy="387.8" r="2.8"/>
<circle cx="162.6" cy="407.6" r="2.8"/>
<circle cx="160.8" cy="405.3" r="2.8"/>
<circle cx="155" cy="428" r="2.8"/>
<circle cx="150" cy="430" r="2.8"/>
<circle cx="153" cy="425" r="2.8"/>
<circle cx="181.7" cy="360" r="2.8"/>
<circle cx="157.5" cy="377.2" r="2.8"/>
<circle cx="159.1" cy="381.1" r="2.8"/>
<circle cx="166.1" cy="383.4" r="2.8"/>
<circle cx="165.3" cy="386.6" r="2.8"/>
<circle cx="173.9" cy="386.6" r="2.8"/>
<circle cx="177" cy="388.9" r="2.8"/>
<circle cx="188.75" cy="383.4" r="2.8"/>
<circle cx="191.9" cy="384.2" r="2.8"/>
<circle cx="187.2" cy="388.1" r="2.8"/>
<circle cx="196.6" cy="375.6" r="2.8"/>
<circle cx="201.25" cy="373.75" r="2.8"/>
<circle cx="201.25" cy="380.3" r="2.8"/>
<circle cx="134.8" cy="388.6" r="2.8"/>
<circle cx="123.1" cy="392" r="2.8"/>
<circle cx="166.9" cy="394.1" r="2.8"/>
<circle cx="148.1" cy="397.5" r="2.8"/>
<circle cx="138" cy="403" r="2.8"/>
<circle cx="138.75" cy="405.3" r="2.8"/>
<circle cx="151.25" cy="402.2" r="2.8"/>
<circle cx="157.5" cy="401.4" r="2.8"/>
<circle cx="147.3" cy="407.7" r="2.8"/>
<circle cx="140.3" cy="411.6" r="2.8"/>
<circle cx="133.3" cy="413.1" r="2.8"/>
<circle cx="152.8" cy="411.6" r="2.8"/>
<circle cx="159.8" cy="416.25" r="2.8"/>
<circle cx="130.2" cy="419" r="2.8"/>
<circle cx="127" cy="424" r="2.8"/>
<circle cx="136.4" cy="423.75" r="2.8"/>
<circle cx="149.7" cy="417.8" r="2.8"/>
<circle cx="150.5" cy="421.7" r="2.8"/>
<circle cx="121.6" cy="425.6" r="2.8"/>
<circle cx="134" cy="430.3" r="2.8"/>
<circle cx="144.2" cy="425.6" r="2.8"/>
<circle cx="145" cy="430.3" r="2.8"/>
<circle cx="124.7" cy="436.6" r="2.8"/>
<circle cx="132.5" cy="436.6" r="2.8"/>
<circle cx="140.3" cy="439.7" r="2.8"/>
<circle cx="146.6" cy="435" r="2.8"/>
<circle cx="126.25" cy="445.2" r="2.8"/>
<circle cx="135.6" cy="448.3" r="2.8"/>
<circle cx="217.7" cy="438.9" r="2.8"/>
<circle cx="213.75" cy="431.1" r="2.8"/>
<circle cx="144.1" cy="477.5" r="2.8"/>
<circle cx="158.9" cy="479" r="2.8"/>
<circle cx="176.9" cy="478.6" r="2.8"/>
<circle cx="170.3" cy="471.6" r="2.8"/>
<circle cx="217.5" cy="468.4" r="2.8"/>
<circle cx="180.8" cy="461.4" r="2.8"/>
<circle cx="172.2" cy="460.6" r="2.8"/>
<circle cx="158.9" cy="466.9" r="2.8"/>
<circle cx="131.6" cy="471.6" r="2.8"/>
<circle cx="132.3" cy="463.75" r="2.8"/>
<circle cx="146.4" cy="464.5" r="2.8"/>
<circle cx="134.7" cy="448.1" r="2.8"/>
<circle cx="219.8" cy="438.75" r="2.8"/>
<circle cx="228.4" cy="441.1" r="2.8"/>
<circle cx="198.75" cy="448.1" r="2.8"/>
<circle cx="206.6" cy="443.4" r="2.8"/>
<circle cx="105.9" cy="358.5" r="2.8"/>
<circle cx="123" cy="392.25" r="2.8"/>
<circle cx="134.9" cy="389" r="2.8"/>
<circle cx="105.25" cy="399" r="2.8"/>
<circle cx="138" cy="403.1" r="2.8"/>
<circle cx="138.6" cy="405" r="2.8"/>
<circle cx="140.5" cy="411.25" r="2.8"/>
<circle cx="146.75" cy="398.1" r="2.8"/>
<circle cx="146.1" cy="407.5" r="2.8"/>
<circle cx="133" cy="413.1" r="2.8"/>
<circle cx="101.1" cy="416.25" r="2.8"/>
<circle cx="101.5" cy="418.1" r="2.8"/>
<circle cx="114" cy="416.25" r="2.8"/>
<circle cx="130.5" cy="418.75" r="2.8"/>
<circle cx="108.6" cy="426.5" r="2.8"/>
<circle cx="119.9" cy="425.25" r="2.8"/>
<circle cx="127.4" cy="424.4" r="2.8"/>
<circle cx="136.1" cy="423.75" r="2.8"/>
<circle cx="144.25" cy="424.4" r="2.8"/>
<circle cx="117.4" cy="433.1" r="2.8"/>
<circle cx="123" cy="435.6" r="2.8"/>
<circle cx="121.75" cy="439.4" r="2.8"/>
<circle cx="119.9" cy="444.4" r="2.8"/>
<circle cx="126.1" cy="445.6" r="2.8"/>
<circle cx="133" cy="432.5" r="2.8"/>
<circle cx="140.5" cy="430.6" r="2.8"/>
<circle cx="144.25" cy="433.75" r="2.8"/>
<circle cx="134.25" cy="438.75" r="2.8"/>
<circle cx="140.5" cy="440" r="2.8"/>
<circle cx="145.5" cy="440" r="2.8"/>
<circle cx="106.5" cy="443.75" r="2.8"/>
<circle cx="99.5" cy="453.5" r="2.8"/>
<circle cx="91.75" cy="464.4" r="2.8"/>
<circle cx="92.1" cy="470" r="2.8"/>
<circle cx="114.25" cy="455.6" r="2.8"/>
<circle cx="117.4" cy="453.75" r="2.8"/>
<circle cx="125.5" cy="454.75" r="2.8"/>
<circle cx="134.25" cy="448.75" r="2.8"/>
<circle cx="136.1" cy="452.5" r="2.8"/>
<circle cx="143" cy="448.75" r="2.8"/>
<circle cx="145.5" cy="452.5" r="2.8"/>
<circle cx="111.75" cy="466.25" r="2.8"/>
<circle cx="115.5" cy="465" r="2.8"/>
<circle cx="119.25" cy="462.5" r="2.8"/>
<circle cx="123" cy="461.25" r="2.8"/>
<circle cx="126.1" cy="465" r="2.8"/>
<circle cx="131.75" cy="464.4" r="2.8"/>
<circle cx="135.5" cy="463.1" r="2.8"/>
<circle cx="139.9" cy="458.75" r="2.8"/>
<circle cx="143" cy="461.25" r="2.8"/>
<circle cx="146.75" cy="463.75" r="2.8"/>
<circle cx="131.75" cy="472.5" r="2.8"/>
<circle cx="106.75" cy="472.75" r="2.8"/>
<circle cx="106.75" cy="479.75" r="2.8"/>
<circle cx="112.4" cy="480.6" r="2.8"/>
<circle cx="116.1" cy="476.9" r="2.8"/>
<circle cx="119.25" cy="477.5" r="2.8"/>
<circle cx="143.6" cy="477.25" r="2.8"/>
<circle cx="89.1" cy="502.1" r="2.8"/>
<circle cx="98.5" cy="493.1" r="2.8"/>
<circle cx="181.1" cy="358.5" r="2.8"/>
<circle cx="122.5" cy="391.7" r="2.8"/>
<circle cx="157.7" cy="378.8" r="2.8"/>
<circle cx="198.7" cy="374.9" r="2.8"/>
<circle cx="222.1" cy="369.1" r="2.8"/>
<circle cx="231.9" cy="360.5" r="2.8"/>
<circle cx="241.6" cy="359.3" r="2.8"/>
<circle cx="255.3" cy="361.25" r="2.8"/>
<circle cx="281.7" cy="347.5" r="2.8"/>
<circle cx="284.5" cy="466.8" r="2.8"/>
<circle cx="289.2" cy="390.4" r="2.8"/>
<circle cx="246.8" cy="467.5" r="2.8"/>
<circle cx="233.6" cy="357.6" r="2.8"/>
<circle cx="231.2" cy="362.5" r="2.8"/>
<circle cx="242.3" cy="359.6" r="2.8"/>
<circle cx="255.5" cy="361.7" r="2.8"/>
<circle cx="221.3" cy="368.8" r="2.8"/>
<circle cx="231.2" cy="372.4" r="2.8"/>
<circle cx="238.6" cy="371.6" r="2.8"/>
<circle cx="201.6" cy="373.2" r="2.8"/>
<circle cx="201.6" cy="380.6" r="2.8"/>
<circle cx="279.5" cy="392.5" r="2.8"/>
<circle cx="265.6" cy="402.7" r="2.8"/>
<circle cx="267.3" cy="407.7" r="2.8"/>
<circle cx="260.7" cy="414.2" r="2.8"/>
<circle cx="250.9" cy="415" r="2.8"/>
<circle cx="214.8" cy="383.9" r="2.8"/>
<circle cx="236.25" cy="447.5" r="2.8"/>
<circle cx="240.6" cy="448.5" r="2.8"/>
<circle cx="229.75" cy="442.25" r="2.8"/>
<circle cx="221.9" cy="438.1" r="2.8"/>
<circle cx="229.4" cy="431.9" r="2.8"/>
<circle cx="233.75" cy="432.75" r="2.8"/>
<circle cx="232.5" cy="436.25" r="2.8"/>
<circle cx="243.75" cy="431.9" r="2.8"/>
<circle cx="244.75" cy="430" r="2.8"/>
<circle cx="243.1" cy="420.6" r="2.8"/>
<circle cx="237.5" cy="417.5" r="2.8"/>
<circle cx="251" cy="415.6" r="2.8"/>
<circle cx="251.25" cy="420" r="2.8"/>
<circle cx="260" cy="426.9" r="2.8"/>
<circle cx="264.4" cy="430.6" r="2.8"/>
<circle cx="263.1" cy="438.1" r="2.8"/>
<circle cx="260.6" cy="415" r="2.8"/>
<circle cx="261.25" cy="410.6" r="2.8"/>
<circle cx="266.25" cy="403.75" r="2.8"/>
<circle cx="267.5" cy="408.1" r="2.8"/>
<circle cx="223.1" cy="425" r="2.8"/>
<circle cx="223.1" cy="428.75" r="2.8"/>
<circle cx="228.75" cy="363.1" r="2.8"/>
<circle cx="157.5" cy="377.5" r="2.8"/>
<circle cx="158.75" cy="381.25" r="2.8"/>
<circle cx="166.25" cy="383.75" r="2.8"/>
<circle cx="165" cy="386.9" r="2.8"/>
<circle cx="173.75" cy="386.5" r="2.8"/>
<circle cx="176.9" cy="388.75" r="2.8"/>
<circle cx="166.9" cy="394.4" r="2.8"/>
<circle cx="196.25" cy="375.6" r="2.8"/>
<circle cx="201.5" cy="380.25" r="2.8"/>
<circle cx="188.1" cy="383.75" r="2.8"/>
<circle cx="192.5" cy="384.4" r="2.8"/>
<circle cx="186.9" cy="388.1" r="2.8"/>
<circle cx="200" cy="387.5" r="2.8"/>
<circle cx="113.75" cy="416.25" r="2.8"/>
<circle cx="120" cy="425.6" r="2.8"/>
<circle cx="110.6" cy="425.6" r="2.8"/>
<circle cx="117.5" cy="432.5" r="2.8"/>
<circle cx="123.1" cy="436.25" r="2.8"/>
<circle cx="121.9" cy="442.5" r="2.8"/>
<circle cx="126.25" cy="445.6" r="2.8"/>
<circle cx="126.25" cy="424.4" r="2.8"/>
<circle cx="130" cy="419.4" r="2.8"/>
<circle cx="133.1" cy="413.1" r="2.8"/>
<circle cx="138.1" cy="403.75" r="2.8"/>
<circle cx="140.6" cy="412.5" r="2.8"/>
<circle cx="148.1" cy="398.1" r="2.8"/>
<circle cx="147.5" cy="406.9" r="2.8"/>
<circle cx="153.1" cy="411.9" r="2.8"/>
<circle cx="158.1" cy="401.9" r="2.8"/>
<circle cx="136.9" cy="423.75" r="2.8"/>
<circle cx="145" cy="425.6" r="2.8"/>
<circle cx="150" cy="419.4" r="2.8"/>
<circle cx="133.75" cy="431.25" r="2.8"/>
<circle cx="143.1" cy="432.5" r="2.8"/>
<circle cx="133.75" cy="438.75" r="2.8"/>
<circle cx="140" cy="440" r="2.8"/>
<circle cx="135" cy="448.75" r="2.8"/>
<circle cx="115" cy="455" r="2.8"/>
<circle cx="125" cy="454.75" r="2.8"/>
<circle cx="180.6" cy="460.6" r="2.8"/>
<circle cx="171.25" cy="459.4" r="2.8"/>
<circle cx="166.9" cy="395.6" r="2.8"/>
</g>
<ellipse cx="175.5" cy="416.5" rx="2.2" ry="1.4" fill="#fff"/>
<ellipse cx="185" cy="439" rx="2" ry="2.2" fill="#fff"/>
<ellipse cx="191" cy="435" rx="1.2" ry="1.2" fill="#fff"/>
<ellipse cx="219.9" cy="414.5" rx="1.2" ry="0.8" fill="#fff"/>
</g>
<rect x="66.6" y="332.65" width="235.3" height="1.5" fill="#000"/>
<rect x="66.6" y="529.95" width="235.3" height="1.9" fill="#000"/>
<rect x="66.6" y="332.65" width="2" height="199.2" fill="#000"/>
<rect x="300.1" y="332.65" width="1.8" height="199.2" fill="#000"/>
<line x1="58" y1="333.4" x2="67.6" y2="333.4" stroke="#000" stroke-width="1.3"/>
<g transform="translate(51.7,339.1)"><text x="-20.44" y="0" transform="scale(1,1.04)" font-size="14.7"> . </text><path transform="translate(-20.44,0) scale(0.00718,-0.00718)" d="M763 0H583V1147Q518 1085 412.5 1023T223 930V1104Q374 1175 487 1276T647 1472H763Z"/><path transform="translate(-8.18,0) scale(0.00718,-0.00718)" d="M763 0H583V1147Q518 1085 412.5 1023T223 930V1104Q374 1175 487 1276T647 1472H763Z"/></g>
<line x1="58" y1="372.84" x2="67.6" y2="372.84" stroke="#000" stroke-width="1.3"/>
<g transform="translate(51.7,378.54)"><text x="-8.18" y="0" transform="scale(1,1.04)" font-size="14.7"> </text><path transform="translate(-8.18,0) scale(0.00718,-0.00718)" d="M763 0H583V1147Q518 1085 412.5 1023T223 930V1104Q374 1175 487 1276T647 1472H763Z"/></g>
<line x1="58" y1="412.28" x2="67.6" y2="412.28" stroke="#000" stroke-width="1.3"/>
<g transform="translate(51.7,417.98)"><text x="-20.44" y="0" transform="scale(1,1.04)" font-size="14.7">0.9</text></g>
<line x1="58" y1="451.72" x2="67.6" y2="451.72" stroke="#000" stroke-width="1.3"/>
<g transform="translate(51.7,457.42)"><text x="-20.44" y="0" transform="scale(1,1.04)" font-size="14.7">0.8</text></g>
<line x1="58" y1="491.16" x2="67.6" y2="491.16" stroke="#000" stroke-width="1.3"/>
<g transform="translate(51.7,496.86)"><text x="-20.44" y="0" transform="scale(1,1.04)" font-size="14.7">0.7</text></g>
<line x1="58" y1="530.6" x2="67.6" y2="530.6" stroke="#000" stroke-width="1.3"/>
<g transform="translate(51.7,536.3)"><text x="-20.44" y="0" transform="scale(1,1.04)" font-size="14.7">0.6</text></g>
<line x1="67.6" y1="530.9" x2="67.6" y2="539.8" stroke="#000" stroke-width="1.3"/>
<line x1="96.78" y1="530.9" x2="96.78" y2="539.8" stroke="#000" stroke-width="1.3"/>
<line x1="125.96" y1="530.9" x2="125.96" y2="539.8" stroke="#000" stroke-width="1.3"/>
<line x1="155.14" y1="530.9" x2="155.14" y2="539.8" stroke="#000" stroke-width="1.3"/>
<line x1="184.32" y1="530.9" x2="184.32" y2="539.8" stroke="#000" stroke-width="1.3"/>
<line x1="213.5" y1="530.9" x2="213.5" y2="539.8" stroke="#000" stroke-width="1.3"/>
<line x1="242.68" y1="530.9" x2="242.68" y2="539.8" stroke="#000" stroke-width="1.3"/>
<line x1="271.86" y1="530.9" x2="271.86" y2="539.8" stroke="#000" stroke-width="1.3"/>
<line x1="301.04" y1="530.9" x2="301.04" y2="539.8" stroke="#000" stroke-width="1.3"/>
<g transform="translate(67.6,557)"><text x="-14.31" y="0" transform="scale(1,1.04)" font-size="14.7">0.65</text></g>
<g transform="translate(125.96,557)"><text x="-14.31" y="0" transform="scale(1,1.04)" font-size="14.7">0.75</text></g>
<g transform="translate(184.32,557)"><text x="-14.31" y="0" transform="scale(1,1.04)" font-size="14.7">0.85</text></g>
<g transform="translate(242.68,557)"><text x="-14.31" y="0" transform="scale(1,1.04)" font-size="14.7">0.95</text></g>
<g transform="translate(301.04,557)"><text x="-14.31" y="0" transform="scale(1,1.04)" font-size="14.7"> .05</text><path transform="translate(-14.31,0) scale(0.00718,-0.00718)" d="M763 0H583V1147Q518 1085 412.5 1023T223 930V1104Q374 1175 487 1276T647 1472H763Z"/></g>
<g transform="translate(176.8,579.4)"><text x="-94.62" y="0" transform="scale(1,1.04)" font-size="15.0">Fitness Homozygous Pool D</text></g>
<g transform="translate(16.1,432.15) rotate(-90)"><text x="-94.62" y="0" transform="scale(1,1.04)" font-size="15.0">Fitness Homozygous Pool C</text></g>
<g transform="translate(338,319.8)"><text x="0" y="0" transform="scale(1,1.09)" font-size="20">D</text></g>
<g fill="#FF1020" stroke="#3a0608" stroke-width="0.8">
<rect x="444.74" y="530.41" width="2.78" height="0.79"/>
<rect x="447.52" y="530.02" width="2.78" height="1.18"/>
<rect x="450.3" y="530.02" width="2.78" height="1.18"/>
<rect x="453.08" y="530.21" width="2.78" height="0.99"/>
<rect x="455.86" y="529.03" width="2.78" height="2.17"/>
<rect x="458.64" y="530.21" width="2.78" height="0.99"/>
<rect x="461.42" y="529.62" width="2.78" height="1.58"/>
<rect x="464.2" y="529.03" width="2.78" height="2.17"/>
<rect x="466.98" y="528.83" width="2.78" height="2.37"/>
<rect x="469.76" y="528.83" width="2.78" height="2.37"/>
<rect x="472.54" y="528.44" width="2.78" height="2.76"/>
<rect x="475.32" y="528.44" width="2.78" height="2.76"/>
<rect x="478.1" y="528.24" width="2.78" height="2.96"/>
<rect x="480.88" y="527.06" width="2.78" height="4.14"/>
<rect x="483.66" y="527.06" width="2.78" height="4.14"/>
<rect x="486.44" y="529.03" width="2.78" height="2.17"/>
<rect x="489.22" y="527.65" width="2.78" height="3.55"/>
<rect x="492" y="527.65" width="2.78" height="3.55"/>
<rect x="494.78" y="529.03" width="2.78" height="2.17"/>
<rect x="497.56" y="525.88" width="2.78" height="5.32"/>
<rect x="500.34" y="526.47" width="2.78" height="4.73"/>
<rect x="503.12" y="526.47" width="2.78" height="4.73"/>
<rect x="505.9" y="525.48" width="2.78" height="5.72"/>
<rect x="508.68" y="524.89" width="2.78" height="6.31"/>
<rect x="511.46" y="525.88" width="2.78" height="5.32"/>
<rect x="514.24" y="526.27" width="2.78" height="4.93"/>
<rect x="517.02" y="525.09" width="2.78" height="6.11"/>
<rect x="519.8" y="524.69" width="2.78" height="6.51"/>
<rect x="522.58" y="524.69" width="2.78" height="6.51"/>
<rect x="525.36" y="526.07" width="2.78" height="5.13"/>
<rect x="528.14" y="526.07" width="2.78" height="5.13"/>
<rect x="530.92" y="526.86" width="2.78" height="4.34"/>
<rect x="533.7" y="525.68" width="2.78" height="5.52"/>
<rect x="536.48" y="523.51" width="2.78" height="7.69"/>
<rect x="539.26" y="523.51" width="2.78" height="7.69"/>
<rect x="542.04" y="525.48" width="2.78" height="5.72"/>
<rect x="544.82" y="526.86" width="2.78" height="4.34"/>
<rect x="547.6" y="524.89" width="2.78" height="6.31"/>
<rect x="550.38" y="524.89" width="2.78" height="6.31"/>
<rect x="553.16" y="526.27" width="2.78" height="4.93"/>
<rect x="555.94" y="524.69" width="2.78" height="6.51"/>
<rect x="558.72" y="524.1" width="2.78" height="7.1"/>
<rect x="561.5" y="524.1" width="2.78" height="7.1"/>
<rect x="564.28" y="521.73" width="2.78" height="9.47"/>
<rect x="567.06" y="520.35" width="2.78" height="10.85"/>
<rect x="569.84" y="518.58" width="2.78" height="12.62"/>
<rect x="572.62" y="515.23" width="2.78" height="15.97"/>
<rect x="575.4" y="511.87" width="2.78" height="19.33"/>
<rect x="578.18" y="504.58" width="2.78" height="26.62"/>
<rect x="580.96" y="483.48" width="2.78" height="47.72"/>
<rect x="583.74" y="452.91" width="2.78" height="78.29"/>
<rect x="586.52" y="371.67" width="2.78" height="159.53"/>
<rect x="589.3" y="350.37" width="2.78" height="180.83"/>
<rect x="592.08" y="409.33" width="2.78" height="121.87"/>
<rect x="594.86" y="485.25" width="2.78" height="45.95"/>
<rect x="597.64" y="519.17" width="2.78" height="12.03"/>
<rect x="600.42" y="528.64" width="2.78" height="2.56"/>
</g>
<rect x="404.45" y="333.05" width="234.55" height="1.4" fill="#333"/>
<rect x="404.45" y="530.45" width="234.55" height="1.5" fill="#000"/>
<rect x="404.45" y="333.05" width="2.1" height="198.9" fill="#000"/>
<rect x="638.2" y="333.05" width="1.8" height="198.9" fill="#262626"/>
<line x1="395.9" y1="333.55" x2="405.5" y2="333.55" stroke="#000" stroke-width="1.3"/>
<g transform="translate(392,339.25)"><text x="-32.7" y="0" transform="scale(1,1.04)" font-size="14.7"> 000</text><path transform="translate(-32.7,0) scale(0.00718,-0.00718)" d="M763 0H583V1147Q518 1085 412.5 1023T223 930V1104Q374 1175 487 1276T647 1472H763Z"/></g>
<line x1="395.9" y1="373.1" x2="405.5" y2="373.1" stroke="#000" stroke-width="1.3"/>
<g transform="translate(392,378.8)"><text x="-24.53" y="0" transform="scale(1,1.04)" font-size="14.7">800</text></g>
<line x1="395.9" y1="412.65" x2="405.5" y2="412.65" stroke="#000" stroke-width="1.3"/>
<g transform="translate(392,418.35)"><text x="-24.53" y="0" transform="scale(1,1.04)" font-size="14.7">600</text></g>
<line x1="395.9" y1="452.2" x2="405.5" y2="452.2" stroke="#000" stroke-width="1.3"/>
<g transform="translate(392,457.9)"><text x="-24.53" y="0" transform="scale(1,1.04)" font-size="14.7">400</text></g>
<line x1="395.9" y1="491.75" x2="405.5" y2="491.75" stroke="#000" stroke-width="1.3"/>
<g transform="translate(392,497.45)"><text x="-24.53" y="0" transform="scale(1,1.04)" font-size="14.7">200</text></g>
<line x1="395.9" y1="531.3" x2="405.5" y2="531.3" stroke="#000" stroke-width="1.3"/>
<g transform="translate(392,537)"><text x="-8.18" y="0" transform="scale(1,1.04)" font-size="14.7">0</text></g>
<g transform="translate(406.8,556.7)"><text x="-18.39" y="0" transform="scale(1,1.04)" font-size="14.7">0.675</text></g>
<g transform="translate(448.13,556.7)"><text x="-14.31" y="0" transform="scale(1,1.04)" font-size="14.7">0.75</text></g>
<g transform="translate(489.46,556.7)"><text x="-18.39" y="0" transform="scale(1,1.04)" font-size="14.7">0.825</text></g>
<g transform="translate(530.79,556.7)"><text x="-10.22" y="0" transform="scale(1,1.04)" font-size="14.7">0.9</text></g>
<g transform="translate(572.12,556.7)"><text x="-18.39" y="0" transform="scale(1,1.04)" font-size="14.7">0.975</text></g>
<g transform="translate(613.45,556.7)"><text x="-14.31" y="0" transform="scale(1,1.04)" font-size="14.7"> .05</text><path transform="translate(-14.31,0) scale(0.00718,-0.00718)" d="M763 0H583V1147Q518 1085 412.5 1023T223 930V1104Q374 1175 487 1276T647 1472H763Z"/></g>
<g transform="translate(516.1,580)"><text x="-62.93" y="0" transform="scale(1,1.04)" font-size="15.0">Fitness (HOM_AV)</text></g>
<g transform="translate(350,441.4) rotate(-90)"><text x="-60.44" y="0" transform="scale(1,1.04)" font-size="15.0">Number of Strains</text></g>
</svg></body></html>
